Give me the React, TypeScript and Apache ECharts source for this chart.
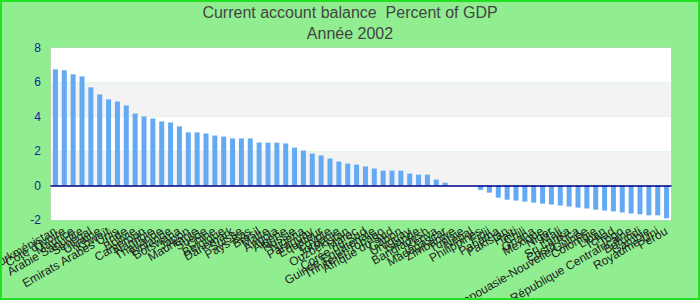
import React, { useEffect, useRef } from "react";
import * as echarts from "echarts";

const countries: string[] = [
  "Turkménistan", "Côte d'Ivoire", "Maurice", "Arabie Saoudite", "Sénégal",
  "Ukraine", "Koweït", "Emirats Arabes Unis", "Inde", "Bolivie",
  "Cameroun", "Namibie", "Thaïlande", "Finlande", "Botswana",
  "Japon", "Mauritanie", "Suède", "Chine", "Belgique",
  "Danemark", "Suisse", "Pays-Bas", "Brésil", "Malte",
  "Angola", "Algérie", "Russie", "Nigeria", "Paraguay",
  "Equateur", "Egypte", "Jordanie", "Ouzbékistan", "Maroc",
  "Corée du Sud", "Guinée Equatoriale", "Trinité-et-Tobago", "Afrique du Sud", "Gabon",
  "Uruguay", "Islande", "Bangladesh", "Kenya", "Madagascar",
  "Zimbabwe", "Tunisie", "Népal", "Philippines", "Fidji",
  "Panama", "Pakistan", "Haïti", "Chili", "Ghana",
  "Mexique", "Niger", "Mali", "Sri Lanka", "Costa Rica",
  "Papouasie-Nouvelle-Guinée", "Colombie", "Liban", "Tchad", "Togo",
  "République Centrafricaine", "Burundi", "Gambie", "Royaume-Uni", "Pérou",
];

const balance: number[] = [
  6.76, 6.70, 6.47, 6.35, 5.71, 5.30, 5.01, 4.89, 4.66, 4.19,
  4.02, 3.90, 3.73, 3.67, 3.44, 3.09, 3.09, 3.03, 2.91, 2.85,
  2.74, 2.74, 2.74, 2.50, 2.50, 2.50, 2.45, 2.21, 2.04, 1.86,
  1.75, 1.57, 1.40, 1.28, 1.22, 1.11, 0.99, 0.87, 0.87, 0.87,
  0.70, 0.64, 0.64, 0.35, 0.17, 0.0, 0.0, 0.0, -0.25, -0.41,
  -0.70, -0.82, -0.87, -0.93, -0.99, -1.05, -1.10, -1.16, -1.22, -1.28,
  -1.33, -1.40, -1.45, -1.50, -1.56, -1.62, -1.67, -1.73, -1.73, -1.90,
];

const yTicks = { min: -2, max: 8, interval: 2 };
const titleText = "Current account balance  Percent of GDP";
const subTitleText = "Année 2002";

export default function App() {
  const ref = useRef<HTMLDivElement>(null);
  useEffect(() => {
    if (!ref.current) return;
    const chart = echarts.init(ref.current, undefined, { renderer: "svg" });
    const font = "Liberation Sans, Arial, sans-serif";
    chart.setOption({
      animation: false,
      backgroundColor: "#90EE90",
      textStyle: { fontFamily: font },
      title: {
        text: titleText,
        subtext: subTitleText,
        left: "center",
        top: -3,
        itemGap: 5,
        textStyle: { fontSize: 16, fontWeight: "normal", color: "#444444", fontFamily: font },
        subtextStyle: { fontSize: 16, color: "#444444", fontFamily: font },
      },
      grid: {
        left: 49,
        right: 27,
        top: 46,
        bottom: 78,
        show: true,
        borderColor: "#cccccc",
        borderWidth: 1,
        containLabel: false,
        outerBoundsMode: "none",
      },
      xAxis: {
        type: "category",
        data: countries,
        z: 5,
        axisLine: { onZero: true, lineStyle: { color: "#00008B", width: 1.5 } },
        axisTick: { show: false },
        axisLabel: {
          interval: 0,
          rotate: 30,
          margin: 10,
          fontSize: 12,
          color: "#222222",
          fontFamily: font,
        },
        splitLine: { show: false },
      },
      yAxis: {
        type: "value",
        min: yTicks.min,
        max: yTicks.max,
        interval: yTicks.interval,
        axisLine: { show: false },
        axisTick: { show: false },
        splitLine: { show: false },
        splitArea: { show: true, areaStyle: { color: ["#ffffff", "#f3f3f3"] } },
        axisLabel: { fontSize: 12, color: "#1a1a9a", margin: 10, fontFamily: font },
      },
      series: [
        {
          type: "bar",
          data: balance,
          barWidth: 5,
          itemStyle: { color: "#64A9F4" },
        },
      ],
    });
    return () => chart.dispose();
  }, []);
  return (
    <div
      style={{
        position: "fixed",
        left: 0,
        top: 0,
        width: 700,
        height: 300,
        boxSizing: "border-box",
        border: "2px solid #22e022",
        background: "#90EE90",
      }}
    >
      <div ref={ref} style={{ width: 696, height: 296 }} />
    </div>
  );
}
